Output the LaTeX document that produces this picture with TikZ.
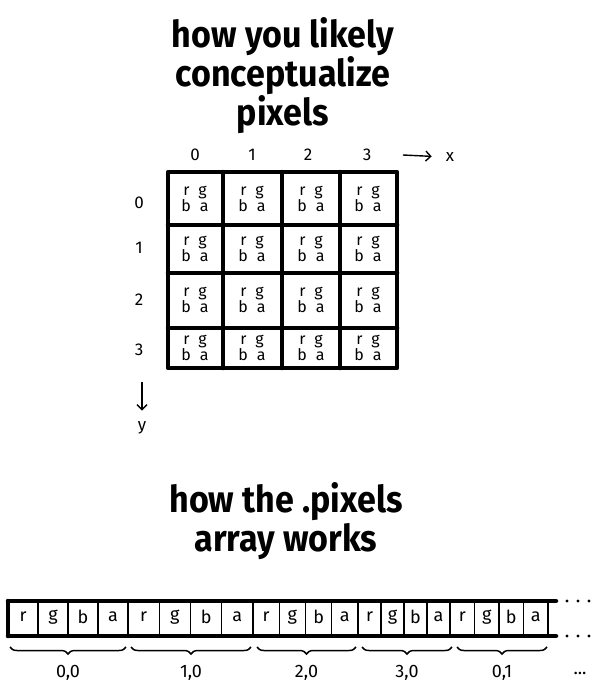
\documentclass[tikz,border=0pt]{standalone}
\usepackage{fontspec}
\setmainfont{Fira Sans}
\usetikzlibrary{decorations.pathreplacing,arrows.meta}
\begin{document}
\begin{tikzpicture}[x=1pt,y=-1pt,
  title/.style={font=\fontsize{37}{39}\selectfont\bfseries, align=center, xscale=0.92, transform shape, inner sep=0pt},
  lbl/.style={font=\fontsize{17}{17}\selectfont, inner sep=1pt},
  celltxt/.style={font=\fontsize{16}{15}\selectfont, align=center, inner sep=0pt},
  arrtxt/.style={font=\fontsize{18}{18}\selectfont, inner sep=0pt},
  gridline/.style={line width=4.5pt, line cap=round, line join=round},
  stripline/.style={line width=4.5pt, line cap=round},
  thin/.style={line width=1.4pt},
  brc/.style={decorate, decoration={brace, amplitude=7pt, mirror}, line width=1.5pt}
]
\useasboundingbox (0,0) rectangle (600,688);

% titles
\node[title] (t1) at (283,76) {how you likely\\conceptualize\\pixels};
\node[title] (t2) at (286,521) {how the .pixels\\array works};

% grid
\def\xa{168}\def\xb{223}\def\xc{282}\def\xd{340}\def\xe{397}
\def\ya{172}\def\yb{225}\def\yc{273}\def\yd{328}\def\ye{368}
\draw[gridline] (\xa,\ya) rectangle (\xe,\ye);
\foreach \x in {\xb,\xc,\xd} \draw[gridline] (\x,\ya) -- (\x,\ye);
\foreach \y in {\yb,\yc,\yd} \draw[gridline] (\xa,\y) -- (\xe,\y);

\foreach \cx [count=\i] in {195,252,311,368}
  \foreach \cy [count=\j] in {199,249,300,348}
    \node[celltxt] (cell\i\j) at (\cx,\cy) {r\hspace{9pt}g\\b\hspace{9pt}a};

% column / row labels
\foreach \cx [count=\i from 0] in {195,252,308,367}
  \node[lbl] (col\i) at (\cx,155) {\i};
\foreach \cy [count=\j from 0] in {203,248,300,350}
  \node[lbl] (row\j) at (139,\cy) {\j};

\node[lbl] (xlab) at (450,157) {x};
\coordinate (xs) at (403,155);
\draw[thin,-{Straight Barb[length=5pt]},shorten >=13pt] (xs) -- (xlab.west);
\node[lbl] (ylab) at (142,428) {y};
\coordinate (ys) at (142,382);
\draw[thin,-{Straight Barb[length=5pt]},shorten >=10pt] (ys) -- (ylab.north);

% strip
\def\sy{601}\def\sb{636}
\draw[stripline] (8,\sy) -- (556,\sy);
\draw[stripline] (8,\sb) -- (556,\sb);
\draw[stripline] (8,\sy) -- (8,\sb);
\foreach \gl/\gr [count=\g] in {8/128,128/253,253/358,358/450,450/548}{
  \pgfmathsetmacro{\w}{(\gr-\gl)/4}
  \foreach \k [count=\kk] in {r,g,b,a}{
    \pgfmathsetmacro{\cl}{\gl+(\kk-1)*\w}
    \pgfmathsetmacro{\cr}{\gl+\kk*\w}
    \ifnum\kk>1 \draw[thin] (\cl,\sy) -- (\cl,\sb);\fi
    \node[arrtxt] (s\g\k) at ({(\cl+\cr)/2},617) {\k};
  }
  \ifnum\g<5 \draw[line width=1.6pt] (\gr,\sy) -- (\gr,\sb);\fi
}
\draw[thin] (548,\sy) -- (548,\sb);
% dots
\foreach \dx in {567,578,589}{
  \fill (\dx,\sy) circle (1.7pt);
  \fill (\dx,\sb) circle (1.7pt);
}

% braces
\foreach \bl/\br/\lab [count=\g] in {10/126/{0,0},131/251/{1,0},257/356/{2,0},362/452/{3,0},457/547/{0,1}}{
  \coordinate (bl\g) at (\bl,647);
  \coordinate (br\g) at (\br,647);
  \draw[brc] (bl\g) -- (br\g);
  \node[arrtxt] (blab\g) at ({(\bl+\br)/2},673) {\lab};
}
\node[arrtxt] (more) at (580,673) {...};
\end{tikzpicture}
\end{document}
